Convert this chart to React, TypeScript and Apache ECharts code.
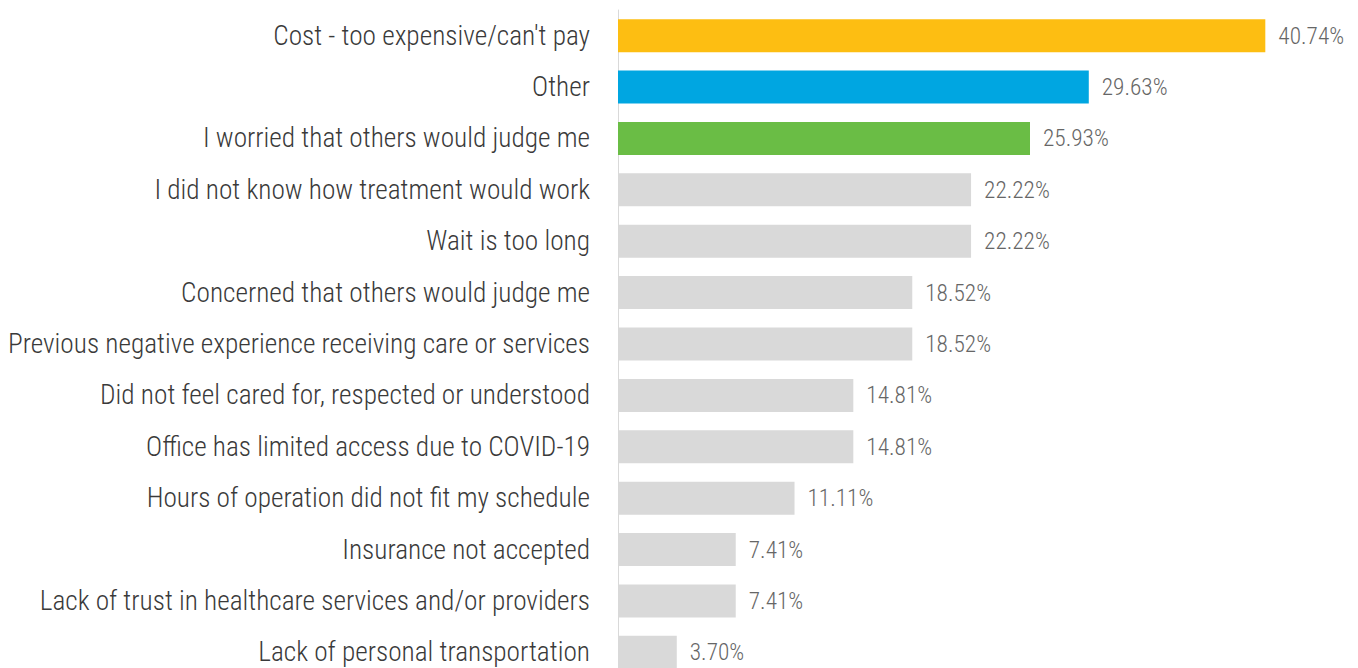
import React, { useEffect, useRef } from "react";
import * as echarts from "echarts";

const categories = [
  "Cost - too expensive/can't pay",
  "Other",
  "I worried that others would judge me",
  "I did not know how treatment would work",
  "Wait is too long",
  "Concerned that others would judge me",
  "Previous negative experience receiving care or services",
  "Did not feel cared for, respected or understood",
  "Office has limited access due to COVID-19",
  "Hours of operation did not fit my schedule",
  "Insurance not accepted",
  "Lack of trust in healthcare services and/or providers",
  "Lack of personal transportation",
];
const values = [40.74, 29.63, 25.93, 22.22, 22.22, 18.52, 18.52, 14.81, 14.81, 11.11, 7.41, 7.41, 3.7];
const barColors = ["#FDBE12", "#00A6E1", "#6ABD45"];
const defaultColor = "#D9D9D9";

const FONT = "'Roboto Condensed', 'Liberation Sans Narrow', 'DejaVu Sans Condensed', Roboto, sans-serif";

export default function App() {
  const ref = useRef<HTMLDivElement>(null);
  useEffect(() => {
    document.body.style.margin = "0";
    document.body.style.overflow = "hidden";
    const chart = echarts.init(ref.current!, null, { renderer: "svg" });
    chart.setOption({
      animation: false,
      grid: { left: 618, right: 25, top: 10, bottom: 0, containLabel: false },
      xAxis: { type: "value", min: 0, max: 45, show: false },
      yAxis: {
        type: "category",
        inverse: true,
        data: categories,
        axisLine: { show: true, lineStyle: { color: "#D9D9D9", width: 1 } },
        axisTick: { show: false },
        axisLabel: { color: "#3a3a3a", fontSize: 27.3, fontWeight: 300, fontFamily: FONT, margin: 28 },
      },
      series: [
        {
          type: "bar",
          barWidth: 33,
          data: values.map((v, i) => ({
            value: v,
            itemStyle: { color: barColors[i] ?? defaultColor },
          })),
          label: {
            show: true,
            position: "right",
            distance: 13,
            color: "#666666",
            fontSize: 23.3,
            fontWeight: 300,
            fontFamily: FONT,
            formatter: (p: any) => p.value.toFixed(2) + "%",
          },
        },
      ],
    });
    return () => chart.dispose();
  }, []);
  return <div ref={ref} style={{ width: 1358, height: 678 }} />;
}
